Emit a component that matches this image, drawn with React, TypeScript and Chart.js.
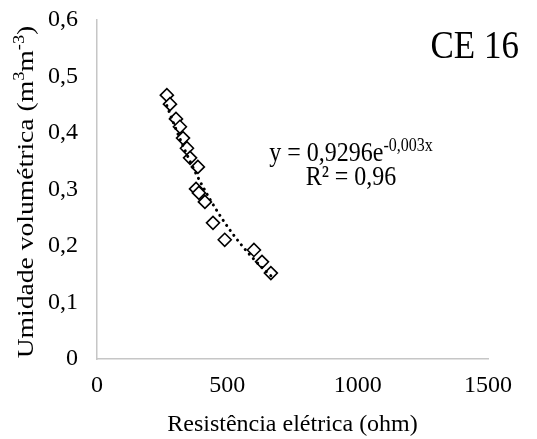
import React, { useEffect, useRef } from "react";
import { Chart, registerables } from "chart.js";

Chart.register(...registerables);

const resistance = [268, 280, 303, 318, 330, 345, 357, 387, 380, 391, 414, 445, 490, 602, 633, 667];
const moisture = [0.467, 0.451, 0.425, 0.411, 0.391, 0.373, 0.356, 0.34, 0.301, 0.294, 0.278, 0.241, 0.211, 0.193, 0.172, 0.152];
const xTicks = [0, 500, 1000, 1500];
const yTicks = [0, 0.1, 0.2, 0.3, 0.4, 0.5, 0.6];
const chartTitle = "CE 16";
const eqMain = "y = 0,9296e";
const eqExp = "-0,003x";
const r2Text = "R² = 0,96";
const xTitle = "Resistência elétrica (ohm)";
const yTitleParts: [string, boolean][] = [
  ["Umidade volumétrica (m", false],
  ["3", true],
  ["m", false],
  ["-3", true],
  [")", false],
];

const FONT = "'Liberation Serif', 'Times New Roman', serif";
const STRETCH = 1.15;

function expFit(xs: number[], ys: number[]) {
  const n = xs.length;
  let sx = 0, sy = 0, sxx = 0, sxy = 0;
  for (let i = 0; i < n; i++) {
    const ly = Math.log(ys[i]);
    sx += xs[i]; sy += ly; sxx += xs[i] * xs[i]; sxy += xs[i] * ly;
  }
  const b = (n * sxy - sx * sy) / (n * sxx - sx * sx);
  const a = Math.exp((sy - b * sx) / n);
  return { a, b };
}

export default function App() {
  const ref = useRef<HTMLCanvasElement | null>(null);
  useEffect(() => {
    document.body.style.margin = "0";
    const fit = expFit(resistance, moisture);
    const xmin = Math.min(...resistance);
    const xmax = Math.max(...resistance);
    const trend: { x: number; y: number }[] = [];
    for (let i = 0; i <= 60; i++) {
      const x = xmin + ((xmax - xmin) * i) / 60;
      trend.push({ x, y: fit.a * Math.exp(fit.b * x) });
    }
    const textPlugin = {
      id: "texts",
      afterDraw(chart: any) {
        const ctx = chart.ctx;
        ctx.save();
        ctx.fillStyle = "#000";
        ctx.textBaseline = "alphabetic";
        // title
        ctx.save();
        ctx.translate(519, 58);
        ctx.scale(1, STRETCH);
        ctx.font = `35px ${FONT}`;
        ctx.textAlign = "right";
        ctx.fillText(chartTitle, 0, 0);
        ctx.restore();
        // equation
        ctx.font = `24px ${FONT}`;
        const w1 = ctx.measureText(eqMain).width;
        ctx.font = `16px ${FONT}`;
        const w2 = ctx.measureText(eqExp).width;
        const cx = 351;
        const left = cx - (w1 + w2) / 2;
        ctx.save();
        ctx.translate(left, 161);
        ctx.scale(1, STRETCH);
        ctx.textAlign = "left";
        ctx.font = `24px ${FONT}`;
        ctx.fillText(eqMain, 0, 0);
        ctx.font = `16px ${FONT}`;
        ctx.fillText(eqExp, w1, -9);
        ctx.restore();
        ctx.save();
        ctx.translate(351, 185);
        ctx.scale(1, STRETCH);
        ctx.font = `24px ${FONT}`;
        ctx.textAlign = "center";
        ctx.fillText(r2Text, 0, 0);
        ctx.restore();
        // y-axis title with superscripts
        let total = 0;
        for (const [t, sup] of yTitleParts) {
          ctx.font = `${sup ? 16 : 24}px ${FONT}`;
          total += ctx.measureText(t).width;
        }
        ctx.translate(33, 192);
        ctx.rotate(-Math.PI / 2);
        ctx.scale(STRETCH, 1);
        let pos = -total / 2;
        ctx.textAlign = "left";
        for (const [t, sup] of yTitleParts) {
          ctx.font = `${sup ? 16 : 24}px ${FONT}`;
          ctx.fillText(t, pos, sup ? -9 : 0);
          pos += ctx.measureText(t).width;
        }
        ctx.restore();
      },
    };
    const chart = new Chart(ref.current as HTMLCanvasElement, {
      type: "scatter",
      data: {
        datasets: [
          {
            type: "line",
            data: trend,
            borderColor: "#000",
            borderWidth: 3,
            borderDash: [0.1, 6],
            borderCapStyle: "round",
            pointRadius: 0,
            fill: false,
            order: 0,
          } as any,
          {
            data: resistance.map((x, i) => ({ x, y: moisture[i] })),
            pointStyle: "rectRot",
            pointRadius: 6.5,
            pointBackgroundColor: "#fff",
            pointBorderColor: "#000",
            pointBorderWidth: 1.6,
            order: 1,
          },
        ],
      },
      options: {
        animation: false,
        responsive: false,
        layout: { padding: { top: 20, right: 49, left: 0, bottom: 0 } },
        plugins: { legend: { display: false }, tooltip: { enabled: false }, title: { display: false } },
        scales: {
          x: {
            type: "linear",
            min: 0,
            max: 1500,
            afterBuildTicks: (s: any) => { s.ticks = xTicks.map((v) => ({ value: v })); },
            afterFit: (s: any) => { s.height = 80; s.paddingRight = 0; s.paddingLeft = 0; },
            grid: { display: false, drawTicks: false },
            border: { color: "#c6c6c6", width: 1.5 },
            ticks: {
              color: "#000",
              font: { family: FONT, size: 24 },
              padding: 12,
              maxRotation: 0,
              callback: (v: any) => String(v),
            },
            title: {
              display: true,
              text: xTitle,
              color: "#000",
              font: { family: FONT, size: 24 },
              padding: { top: 10, bottom: 0 },
            },
          },
          y: {
            type: "linear",
            min: 0,
            max: 0.6,
            afterBuildTicks: (s: any) => { s.ticks = yTicks.map((v) => ({ value: v })); },
            afterFit: (s: any) => { s.width = 97; s.paddingTop = 0; s.paddingBottom = 0; },
            grid: { display: false, drawTicks: false },
            border: { color: "#c6c6c6", width: 1.5 },
            ticks: {
              color: "#000",
              font: { family: FONT, size: 24 },
              padding: 19,
              callback: (v: any) => String(Math.round(Number(v) * 10) / 10).replace(".", ","),
            },
          },
        },
      },
      plugins: [textPlugin],
    } as any);
    return () => chart.destroy();
  }, []);
  return <canvas ref={ref} width={537} height={439} style={{ display: "block" }} />;
}
